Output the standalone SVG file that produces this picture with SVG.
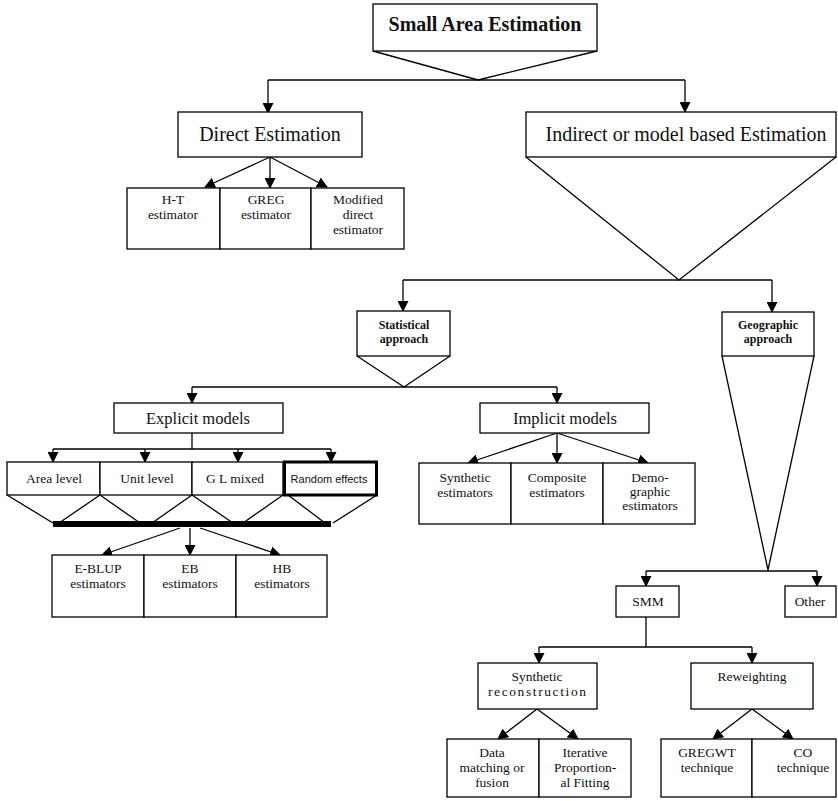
<svg xmlns="http://www.w3.org/2000/svg" width="838" height="801" viewBox="0 0 838 801">
<style>
.b{fill:#fff;stroke:#000;stroke-width:1.3}
.l{fill:none;stroke:#000;stroke-width:1.3}
.t{font-family:"Liberation Serif","Times New Roman",serif;fill:#111;text-anchor:middle}
.s{font-size:13.5px}
.m{font-size:16.5px}
.g{font-size:20px}
.h{font-size:12px;font-weight:bold}
</style>
<defs>
<marker id="a" markerWidth="11" markerHeight="11" refX="10" refY="5.5" orient="auto" markerUnits="userSpaceOnUse">
<path d="M0,0 L11,5.5 L0,11 z" fill="#000"/>
</marker>
</defs>
<rect width="838" height="801" fill="#fff"/>
<g id="connectors">
<path class="l" d="M373,51 L478,80 L597,51"/>
<path class="l" d="M268,80 H685"/>
<path class="l" d="M268,80 V113" marker-end="url(#a)"/>
<path class="l" d="M685,80 V112" marker-end="url(#a)"/>
<path class="l" d="M270,157 L205,187" marker-end="url(#a)"/>
<path class="l" d="M270,157 V188" marker-end="url(#a)"/>
<path class="l" d="M270,157 L327,187" marker-end="url(#a)"/>
<path class="l" d="M526,157 L679,280 L836,157"/>
<path class="l" d="M403,280 H772"/>
<path class="l" d="M403,280 V311" marker-end="url(#a)"/>
<path class="l" d="M772,280 V312" marker-end="url(#a)"/>
<path class="l" d="M357,356 L404,387 L450,356"/>
<path class="l" d="M722,356 L768,570 L814,356"/>
<path class="l" d="M192,387 H557"/>
<path class="l" d="M192,387 V403" marker-end="url(#a)"/>
<path class="l" d="M557,387 V403" marker-end="url(#a)"/>
<path class="l" d="M192,433 V449 M53,449 H331"/>
<path class="l" d="M53,449 V462" marker-end="url(#a)"/>
<path class="l" d="M145,449 V462" marker-end="url(#a)"/>
<path class="l" d="M238,449 V462" marker-end="url(#a)"/>
<path class="l" d="M331,449 V462" marker-end="url(#a)"/>
<path class="l" d="M7,495 L53,523 M100,495 L59,523 M100,495 L140,523 M192,495 L152,523 M192,495 L233,523 M283,495 L243,523 M288,495 L325,523 M377,495 L333,523"/>
<rect x="53" y="521" width="278" height="6" fill="#000"/>
<path class="l" d="M180,528 L102,555" marker-end="url(#a)"/>
<path class="l" d="M190,528 V555" marker-end="url(#a)"/>
<path class="l" d="M200,528 L280,555" marker-end="url(#a)"/>
<path class="l" d="M557,433 L468,463" marker-end="url(#a)"/>
<path class="l" d="M557,433 V463" marker-end="url(#a)"/>
<path class="l" d="M557,433 L648,463" marker-end="url(#a)"/>
<path class="l" d="M646,571 H817"/>
<path class="l" d="M646,571 V586" marker-end="url(#a)"/>
<path class="l" d="M817,571 V586" marker-end="url(#a)"/>
<path class="l" d="M646,617 V647 M539,647 H752"/>
<path class="l" d="M539,647 V663" marker-end="url(#a)"/>
<path class="l" d="M752,647 V663" marker-end="url(#a)"/>
<path class="l" d="M537,709 L498,739" marker-end="url(#a)"/>
<path class="l" d="M537,709 L578,739" marker-end="url(#a)"/>
<path class="l" d="M752,709 L713,739" marker-end="url(#a)"/>
<path class="l" d="M752,709 L793,739" marker-end="url(#a)"/>
</g>
<g id="sae">
<rect class="b" x="373" y="4" width="224" height="47"/>
<text class="t" x="485" y="31" font-size="20" font-weight="bold">Small Area Estimation</text>
</g>
<g id="direct">
<rect class="b" x="178" y="112" width="184" height="45"/>
<text class="t g" x="270" y="141">Direct Estimation</text>
</g>
<g id="ht">
<rect class="b" x="127" y="188" width="93" height="61"/>
<text class="t s" x="173" y="204">H-T</text>
<text class="t s" x="173" y="219">estimator</text>
</g>
<g id="greg">
<rect class="b" x="220" y="188" width="91" height="61"/>
<text class="t s" x="266" y="204">GREG</text>
<text class="t s" x="266" y="219">estimator</text>
</g>
<g id="modified">
<rect class="b" x="311" y="188" width="93" height="61"/>
<text class="t s" x="358" y="204">Modified</text>
<text class="t s" x="358" y="219">direct</text>
<text class="t s" x="358" y="234">estimator</text>
</g>
<g id="indirect">
<rect class="b" x="526" y="112" width="310" height="45"/>
<text class="t g" x="686" y="141">Indirect or model based Estimation</text>
</g>
<g id="statistical">
<rect class="b" x="357" y="311" width="93" height="45"/>
<text class="t h" x="404" y="329">Statistical</text>
<text class="t h" x="404" y="343">approach</text>
</g>
<g id="geographic">
<rect class="b" x="722" y="312" width="92" height="44"/>
<text class="t h" x="768" y="329">Geographic</text>
<text class="t h" x="768" y="343">approach</text>
</g>
<g id="explicit">
<rect class="b" x="114" y="403" width="169" height="30"/>
<text class="t m" x="198" y="424">Explicit models</text>
</g>
<g id="implicit">
<rect class="b" x="480" y="403" width="169" height="30"/>
<text class="t m" x="565" y="424">Implicit models</text>
</g>
<g id="area">
<rect class="b" x="7" y="462" width="93" height="33"/>
<text class="t s" x="54" y="483">Area level</text>
</g>
<g id="unit">
<rect class="b" x="100" y="462" width="92" height="33"/>
<text class="t s" x="147" y="483">Unit level</text>
</g>
<g id="glmixed">
<rect class="b" x="192" y="462" width="91" height="33"/>
<text class="t s" x="235" y="483">G L mixed</text>
</g>
<g id="random">
<rect x="284.5" y="462" width="92" height="33" fill="#fff" stroke="#000" stroke-width="3"/>
<text x="329" y="483" font-family="Liberation Sans,Arial,sans-serif" font-size="11" fill="#111" text-anchor="middle">Random effects</text>
</g>
<g id="eblup">
<rect class="b" x="52" y="555" width="92" height="62"/>
<text class="t s" x="98" y="573">E-BLUP</text>
<text class="t s" x="98" y="588">estimators</text>
</g>
<g id="eb">
<rect class="b" x="144" y="555" width="92" height="62"/>
<text class="t s" x="190" y="573">EB</text>
<text class="t s" x="190" y="588">estimators</text>
</g>
<g id="hb">
<rect class="b" x="236" y="555" width="91" height="62"/>
<text class="t s" x="282" y="573">HB</text>
<text class="t s" x="282" y="588">estimators</text>
</g>
<g id="synthetic">
<rect class="b" x="419" y="463" width="92" height="61"/>
<text class="t s" x="465" y="482">Synthetic</text>
<text class="t s" x="465" y="497">estimators</text>
</g>
<g id="composite">
<rect class="b" x="511" y="463" width="92" height="61"/>
<text class="t s" x="557" y="482">Composite</text>
<text class="t s" x="557" y="497">estimators</text>
</g>
<g id="demographic">
<rect class="b" x="603" y="463" width="92" height="61"/>
<text class="t s" x="650" y="482">Demo-</text>
<text class="t s" x="650" y="496">graphic</text>
<text class="t s" x="650" y="510">estimators</text>
</g>
<g id="smm">
<rect class="b" x="616" y="586" width="63" height="31"/>
<text class="t s" x="648" y="606">SMM</text>
</g>
<g id="other">
<rect class="b" x="785" y="586" width="51" height="31"/>
<text class="t s" x="810" y="606">Other</text>
</g>
<g id="synrec">
<rect class="b" x="478" y="663" width="119" height="46"/>
<text class="t s" x="537" y="681">Synthetic</text>
<text class="t s" x="537" y="696" textLength="98" lengthAdjust="spacing">reconstruction</text>
</g>
<g id="reweighting">
<rect class="b" x="691" y="663" width="122" height="46"/>
<text class="t s" x="752" y="681">Reweighting</text>
</g>
<g id="datamatching">
<rect class="b" x="447" y="739" width="92" height="58"/>
<text class="t s" x="492" y="757">Data</text>
<text class="t s" x="492" y="772">matching or</text>
<text class="t s" x="492" y="787">fusion</text>
</g>
<g id="ipf">
<rect class="b" x="539" y="739" width="92" height="58"/>
<text class="t s" x="585" y="757">Iterative</text>
<text class="t s" x="585" y="772">Proportion-</text>
<text class="t s" x="585" y="787">al Fitting</text>
</g>
<g id="gregwt">
<rect class="b" x="661" y="739" width="91" height="58"/>
<text class="t s" x="707" y="757">GREGWT</text>
<text class="t s" x="707" y="772">technique</text>
</g>
<g id="co">
<rect class="b" x="752" y="739" width="84" height="58"/>
<text class="t s" x="803" y="757">CO</text>
<text class="t s" x="803" y="772">technique</text>
</g>
</svg>
